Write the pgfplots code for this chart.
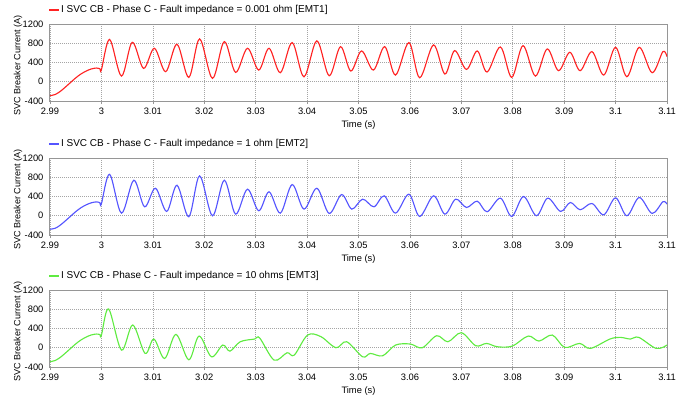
\documentclass[border=0pt]{standalone}
\usepackage{pgfplots}
\pgfplotsset{compat=1.18}
\usepackage{fontspec}
\setmainfont{Liberation Sans}
\definecolor{cred}{RGB}{255,35,35}
\definecolor{cblue}{RGB}{85,85,255}
\definecolor{cgreen}{RGB}{95,235,65}
\definecolor{framegray}{RGB}{150,150,150}
\definecolor{gridgray}{RGB}{165,165,165}
\pgfplotsset{panel/.style={
  scale only axis, width=462.75pt, height=57.75pt,
  xmin=2.99, xmax=3.11, ymin=-400, ymax=1200,
  xtick={2.99,3,3.01,3.02,3.03,3.04,3.05,3.06,3.07,3.08,3.09,3.1,3.11},
  xticklabels={2.99,3,3.01,3.02,3.03,3.04,3.05,3.06,3.07,3.08,3.09,3.1,3.11},
  ytick={-400,0,400,800,1200}, yticklabels={-400,0,400,800,1200},
  grid=major, major grid style={gridgray, dash pattern=on 0.75pt off 0.75pt, line width=0.5pt},
  axis line style={framegray, line width=0.75pt},
  tick align=outside, xtick pos=bottom, ytick pos=left, major tick length=2.25pt,
  ytick style={draw=none}, xtick style={framegray, line width=0.5pt},
  tick label style={font=\fontsize{7}{8}\selectfont},
  xticklabel style={inner sep=0pt, yshift=-2.5pt},
  yticklabel style={inner sep=0pt, xshift=-2.5pt},
  xlabel={Time (s)}, ylabel={SVC Breaker Current (A)},
  xlabel style={at={(axis description cs:0.5,-0.3117)}, anchor=center, font=\fontsize{7}{8}\selectfont},
  ylabel style={at={(axis description cs:-0.052,0.46)}, anchor=center, font=\fontsize{6.8}{8}\selectfont},
  legend style={at={(axis description cs:0,1)}, anchor=west, yshift=10.5pt, xshift=-1.2pt, draw=none, fill=none, inner sep=0pt, font=\fontsize{7.5}{9}\selectfont, nodes={inner sep=0.8pt}},
  legend image code/.code={\draw[#1, line width=1pt] (0pt,0pt) -- (7.5pt,0pt);},
  every axis plot/.append style={line width=0.85pt, smooth, tension=0.55},
}}
\begin{document}
\begin{tikzpicture}
\path (0,0) rectangle (517.5pt,-300.75pt);
\begin{axis}[panel, at={(37.5pt,-18pt)}, anchor=north west]
\addplot[cred] coordinates {
(2.99,-290) (2.991,-265) (2.992,-200) (2.993,-110) (2.994,-15) (2.995,80) (2.996,160) (2.997,220) (2.998,265) (2.999,285) (2.9997,270) (3.0,250)
(3.0016,880) (3.0039,118) (3.006,820) (3.0082,278) (3.0103,696) (3.0125,209) (3.0147,779) (3.017,90) (3.0191,890) (3.0216,70) (3.0239,835) (3.0261,195) (3.0284,696) (3.0306,243) (3.0326,696) (3.0348,188) (3.0371,814) (3.0394,104) (3.0419,849) (3.0443,125) (3.0465,730) (3.0485,223) (3.0506,640) (3.0529,243) (3.0551,730) (3.0572,139) (3.0598,814) (3.0619,83) (3.0646,765) (3.0668,160) (3.0687,647) (3.071,257) (3.0731,640) (3.075,202) (3.0776,723) (3.0798,90) (3.082,751) (3.0844,118) (3.0867,682) (3.0889,230) (3.0911,612) (3.0931,230) (3.0954,626) (3.0977,139) (3.1,716) (3.1022,104) (3.1046,716) (3.1071,188) (3.1092,626) (3.11,522)
};
\addlegendentry{I SVC CB - Phase C - Fault impedance = 0.001 ohm [EMT1]}
\end{axis}
\begin{axis}[panel, at={(37.5pt,-118.5pt)}, anchor=north west]
\addplot[cblue] coordinates {
(2.99,-280) (2.991,-260) (2.992,-195) (2.993,-105) (2.994,-10) (2.995,85) (2.996,165) (2.997,225) (2.998,268) (2.999,288) (2.9997,272) (3.0,250)
(3.0016,862) (3.0039,55) (3.0063,738) (3.0084,186) (3.0105,572) (3.0127,90) (3.0147,634) (3.017,-20) (3.0191,828) (3.0216,0) (3.0239,738) (3.0261,34) (3.0284,552) (3.0306,103) (3.0326,497) (3.0348,55) (3.0371,648) (3.0394,138) (3.0419,572) (3.0443,48) (3.0467,440) (3.0487,138) (3.0508,345) (3.053,186) (3.055,414) (3.0572,55) (3.0598,448) (3.0619,-14) (3.0646,414) (3.0668,34) (3.0689,345) (3.071,172) (3.0731,303) (3.075,83) (3.0776,366) (3.0798,-14) (3.0821,400) (3.0846,0) (3.0868,366) (3.0893,90) (3.0912,276) (3.0931,124) (3.0954,255) (3.0977,20) (3.1,372) (3.1022,0) (3.1046,380) (3.1071,48) (3.1092,290) (3.11,241)
};
\addlegendentry{I SVC CB - Phase C - Fault impedance = 1 ohm [EMT2]}
\end{axis}
\begin{axis}[panel, at={(37.5pt,-217.5pt)}, anchor=north west]
\addplot[cgreen] coordinates {
(2.99,-290) (2.991,-265) (2.992,-200) (2.993,-110) (2.994,-15) (2.995,80) (2.996,160) (2.997,220) (2.998,265) (2.999,285) (2.9997,275) (3.0,260)
(3.0014,807) (3.0039,-49) (3.0061,473) (3.0085,-118) (3.0102,181) (3.0123,-223) (3.0145,278) (3.017,-250) (3.019,243) (3.0214,-188) (3.0236,56) (3.025,-70) (3.027,125) (3.0298,181) (3.0308,200) (3.0336,-257) (3.0361,-104) (3.0375,-153) (3.0401,264) (3.0427,230) (3.0456,0) (3.0477,125) (3.0508,-188) (3.0523,-118) (3.0547,-167) (3.0572,56) (3.0601,77) (3.0624,0) (3.0652,250) (3.0674,125) (3.07,313) (3.0728,42) (3.0749,90) (3.077,21) (3.0799,35) (3.083,243) (3.0851,139) (3.0877,264) (3.0901,7) (3.093,90) (3.0951,-14) (3.0989,181) (3.1009,216) (3.1029,181) (3.1045,216) (3.1079,-14) (3.11,56)
};
\addlegendentry{I SVC CB - Phase C - Fault impedance = 10 ohms [EMT3]}
\end{axis}
\end{tikzpicture}
\end{document}
